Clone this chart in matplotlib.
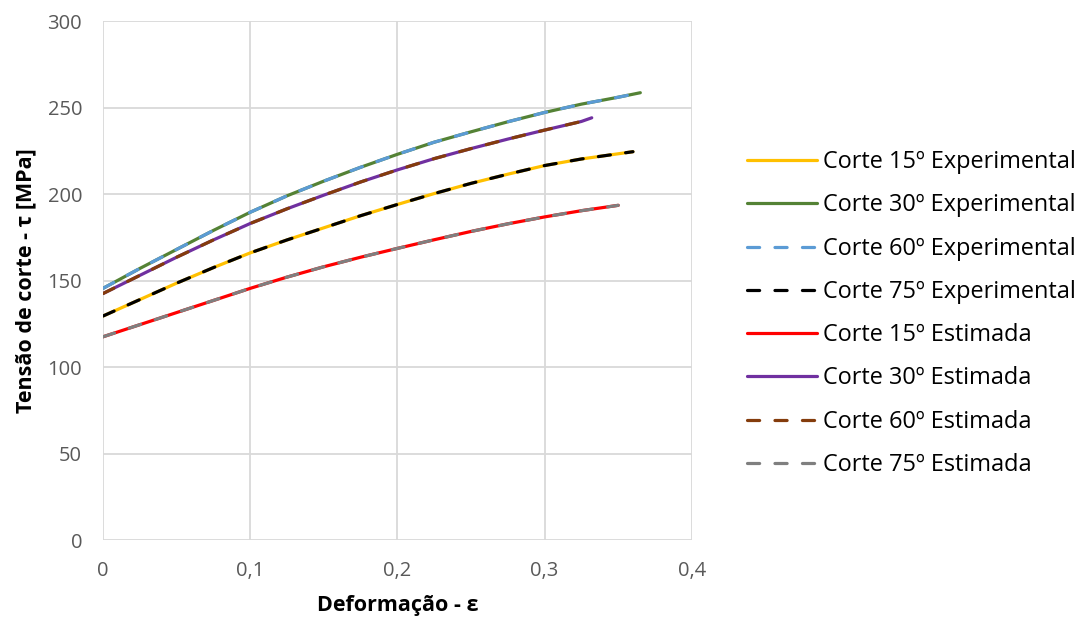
import matplotlib
matplotlib.use("Agg")
import matplotlib.pyplot as plt
from matplotlib.ticker import FuncFormatter

plt.rcParams['font.family'] = ['Open Sans', 'DejaVu Sans']

# values (deformation vs shear stress in MPa)
eps_30e = [0, 0.025, 0.05, 0.075, 0.1, 0.125, 0.15, 0.175, 0.2, 0.225, 0.25, 0.275, 0.3, 0.325, 0.35, 0.365]
tau_30e = [145.5, 157, 168, 179, 189.5, 199, 207.5, 215.5, 223, 230, 236, 241.8, 247.2, 252, 256, 258.6]

eps_15e = [0, 0.025, 0.05, 0.075, 0.1, 0.125, 0.15, 0.175, 0.2, 0.225, 0.25, 0.275, 0.3, 0.325, 0.35, 0.36]
tau_15e = [129.5, 139, 148.5, 157.5, 166, 173.5, 180.5, 187.5, 194, 200.3, 206.2, 211.5, 216.5, 220.3, 223.3, 224.5]

eps_30s = [0, 0.025, 0.05, 0.075, 0.1, 0.125, 0.15, 0.175, 0.2, 0.225, 0.25, 0.275, 0.3, 0.325, 0.332]
tau_30s = [142.5, 153, 163.5, 173.5, 183, 191.5, 199.4, 207, 214, 220.5, 226.3, 231.8, 237, 242, 244.1]

eps_15s = [0, 0.025, 0.05, 0.075, 0.1, 0.125, 0.15, 0.175, 0.2, 0.225, 0.25, 0.275, 0.3, 0.325, 0.35]
tau_15s = [117.5, 124.5, 131.5, 138.5, 145.5, 152, 158, 163.5, 168.6, 173.6, 178.4, 182.8, 186.8, 190.4, 193.5]

labels = ["Corte 15º Experimental", "Corte 30º Experimental",
          "Corte 60º Experimental", "Corte 75º Experimental",
          "Corte 15º Estimada", "Corte 30º Estimada",
          "Corte 60º Estimada", "Corte 75º Estimada"]

series = [
    (eps_15e, tau_15e, "#FFC000", "-"),
    (eps_30e, tau_30e, "#548235", "-"),
    (eps_30e, tau_30e, "#5B9BD5", "--"),
    (eps_15e, tau_15e, "#000000", "--"),
    (eps_15s, tau_15s, "#FF0000", "-"),
    (eps_30s, tau_30s, "#7030A0", "-"),
    (eps_30s, tau_30s, "#843C0C", "--"),
    (eps_15s, tau_15s, "#7F7F7F", "--"),
]

fig = plt.figure(figsize=(10.81, 6.21), dpi=100)
ax = fig.add_axes([0.0953, 0.1304, 0.5447, 0.8356])

for (x, y, c, ls), lab in zip(series, labels):
    line, = ax.plot(x, y, color=c, lw=2.3, label=lab, solid_capstyle='round',
                    dash_capstyle='round')
    if ls == "--":
        line.set_dashes((3.8, 4.8))

ax.set_xlim(0, 0.4)
ax.set_ylim(0, 300)
ax.set_xticks([0, 0.1, 0.2, 0.3, 0.4])
ax.set_yticks(range(0, 301, 50))
ax.xaxis.set_major_formatter(FuncFormatter(lambda v, p: ("%g" % round(v, 2)).replace('.', ',')))
ax.grid(True, color="#D9D9D9", lw=1.3)
ax.set_axisbelow(True)
for s in ax.spines.values():
    s.set_visible(False)
ax.tick_params(length=0, labelsize=14.5, colors="#595959")
ax.tick_params(axis='y', pad=15)
ax.tick_params(axis='x', pad=15)

ax.set_xlabel("Deformação - ε", fontsize=15.5, fontweight='bold', labelpad=10)
ax.set_ylabel("Tensão de corte - τ [MPa]", fontsize=15.5, fontweight='bold', labelpad=8)

fig.legend(loc='center left', bbox_to_anchor=(0.691, 0.495), frameon=False,
           fontsize=16.9, handlelength=3.0, handletextpad=0.26, labelspacing=0.82,
           borderaxespad=0, borderpad=0)

fig.savefig("out.png", dpi=100)
